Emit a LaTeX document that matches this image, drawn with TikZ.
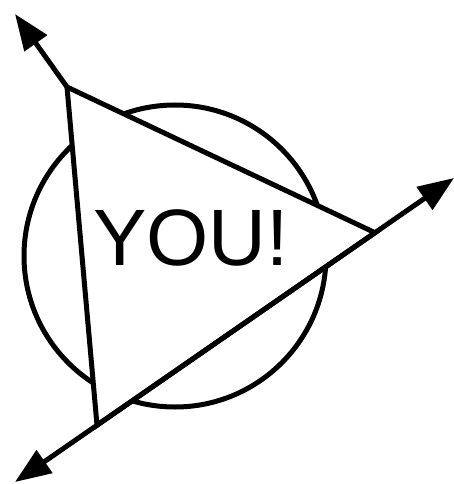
\documentclass[tikz,border=0pt]{standalone}
\usepackage{fontspec}
\setmainfont{Liberation Sans}
\usetikzlibrary{arrows.meta}
\begin{document}
\begin{tikzpicture}[x=1pt,y=-1pt,
  thick line/.style={line width=5pt, line join=miter},
  arr/.style={thick line, -{Triangle[length=36pt,width=27pt]}},
  darr/.style={thick line, {Triangle[length=36pt,width=27pt]}-{Triangle[length=36pt,width=27pt]}}]
\useasboundingbox (0,0) rectangle (454,484);
\coordinate (tipT) at (15,14);
\coordinate (tipL) at (15,482);
\coordinate (tipR) at (454,178);
\coordinate (A) at (67,87);
\coordinate (B) at (375,232.7);
\coordinate (C) at (97,425.2);
\node[draw, thick line, circle, minimum size=302pt, inner sep=0pt] (circ) at (175,256) {};
\draw[thick line, fill=white] (A) -- (B) -- (C) -- cycle;
\draw[arr] (A) -- (tipT);
\draw[darr] (tipL) -- (tipR);
\node[anchor=base, font=\fontsize{80}{80}\selectfont, inner sep=0pt] (you) at (191,265) {YOU!};
\end{tikzpicture}
\end{document}
